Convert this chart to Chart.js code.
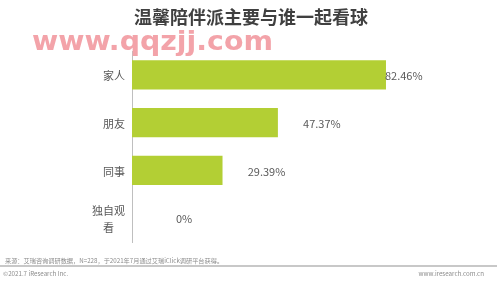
<!DOCTYPE html>
<html lang="zh-CN">
<head>
    <meta charset="UTF-8">
    <title>温馨陪伴派主要与谁一起看球</title>
    <script src="https://cdn.jsdelivr.net/npm/chart.js"></script>
    <style>
        html, body { margin: 0; padding: 0; background: #fff; }
        .wrap { position: relative; width: 499px; height: 283px; }
    </style>
</head>
<body>
    <div class="wrap">
        <canvas id="chart" width="499" height="283"></canvas>
    </div>

    <script>
        // 数据
        const categories = ['家人', '朋友', '同事', ['独自观', '看']];
        const values = [82.46, 47.37, 29.39, 0];
        const valueLabels = ['82.46%', '47.37%', '29.39%', '0%'];

        const titleText = '温馨陪伴派主要与谁一起看球';
        const watermark = 'www.qqzjj.com';
        const sourceText = '来源：艾瑞咨询调研数据，N=228，于2021年7月通过艾瑞iClick调研平台获得。';
        const copyright = '©2021.7 iResearch Inc.';
        const site = 'www.iresearch.com.cn';

        const FONT = '"Noto Sans CJK SC", "Noto Sans", sans-serif';

        // 标题、水印、页脚
        const decorPlugin = {
            id: 'decor',
            afterDraw(chart) {
                const ctx = chart.ctx;
                ctx.save();
                ctx.textBaseline = 'middle';

                ctx.fillStyle = '#404040';
                ctx.font = 'bold 18px ' + FONT;
                ctx.textAlign = 'center';
                ctx.fillText(titleText, 251, 17);

                // 水印：横向拉宽
                ctx.save();
                ctx.fillStyle = '#f3a3a9';
                ctx.font = 'bold 26px "DejaVu Sans", sans-serif';
                ctx.textAlign = 'left';
                ctx.textBaseline = 'alphabetic';
                const ww = ctx.measureText(watermark).width;
                ctx.translate(32, 50);
                ctx.scale(241 / ww, 1);
                ctx.fillText(watermark, 0, 0);
                ctx.restore();

                ctx.fillStyle = '#8c8c8c';
                ctx.font = '6.2px ' + FONT;
                ctx.textAlign = 'left';
                ctx.fillText(sourceText, 5, 261);
                ctx.fillText(copyright, 3, 274);
                ctx.textAlign = 'right';
                ctx.fillText(site, 484, 274);

                ctx.strokeStyle = '#c8c8c8';
                ctx.lineWidth = 2;
                ctx.beginPath();
                ctx.moveTo(0, 266);
                ctx.lineTo(497, 266);
                ctx.stroke();
                ctx.restore();
            }
        };

        // 分类标签（多行时居中）
        const catPlugin = {
            id: 'cats',
            afterDraw(chart) {
                const ctx = chart.ctx;
                const y = chart.scales.y;
                const right = y.right - 7;
                ctx.save();
                ctx.fillStyle = '#595959';
                ctx.font = '11px ' + FONT;
                ctx.textBaseline = 'middle';
                categories.forEach((c, i) => {
                    const cy = y.getPixelForValue(i) + 1;
                    const lines = Array.isArray(c) ? c : [c];
                    const maxW = Math.max(...lines.map(l => ctx.measureText(l).width));
                    const cx = right - maxW / 2;
                    const lh = 17;
                    const y0 = cy - (lines.length - 1) * lh / 2;
                    ctx.textAlign = 'center';
                    lines.forEach((l, k) => ctx.fillText(l, cx, y0 + k * lh));
                });
                ctx.restore();
            }
        };

        // 数值标签
        const valuePlugin = {
            id: 'values',
            afterDatasetsDraw(chart) {
                const ctx = chart.ctx;
                const meta = chart.getDatasetMeta(0);
                ctx.save();
                ctx.fillStyle = '#595959';
                ctx.font = '11px ' + FONT;
                ctx.textBaseline = 'middle';
                ctx.textAlign = 'center';
                meta.data.forEach((bar, i) => {
                    let x = bar.x + 44;
                    const w = ctx.measureText(valueLabels[i]).width;
                    if (values[i] === 0) x = bar.x + 52;
                    if (x + w / 2 > chart.chartArea.right - 20) {
                        x = bar.x + w / 2 - 1; // 空间不够时贴着柱子
                    }
                    ctx.fillText(valueLabels[i], x, bar.y + 1);
                });
                ctx.restore();
            }
        };

        new Chart(document.getElementById('chart'), {
            type: 'bar',
            data: {
                labels: categories,
                datasets: [{
                    data: values,
                    backgroundColor: '#b3cf34',
                    categoryPercentage: 0.8,
                    barPercentage: 0.76
                }]
            },
            options: {
                indexAxis: 'y',
                responsive: false,
                animation: false,
                layout: { padding: { top: 51, right: 59, bottom: 41, left: 0 } },
                scales: {
                    x: {
                        display: false,
                        min: 0,
                        max: 100
                    },
                    y: {
                        grid: { display: false },
                        border: { display: true, color: '#bfbfbf', width: 1 },
                        ticks: { display: false },
                        afterFit(scale) { scale.width = 132; }
                    }
                },
                plugins: {
                    legend: { display: false },
                    tooltip: { enabled: false }
                }
            },
            plugins: [decorPlugin, catPlugin, valuePlugin]
        });
    </script>
</body>
</html>
